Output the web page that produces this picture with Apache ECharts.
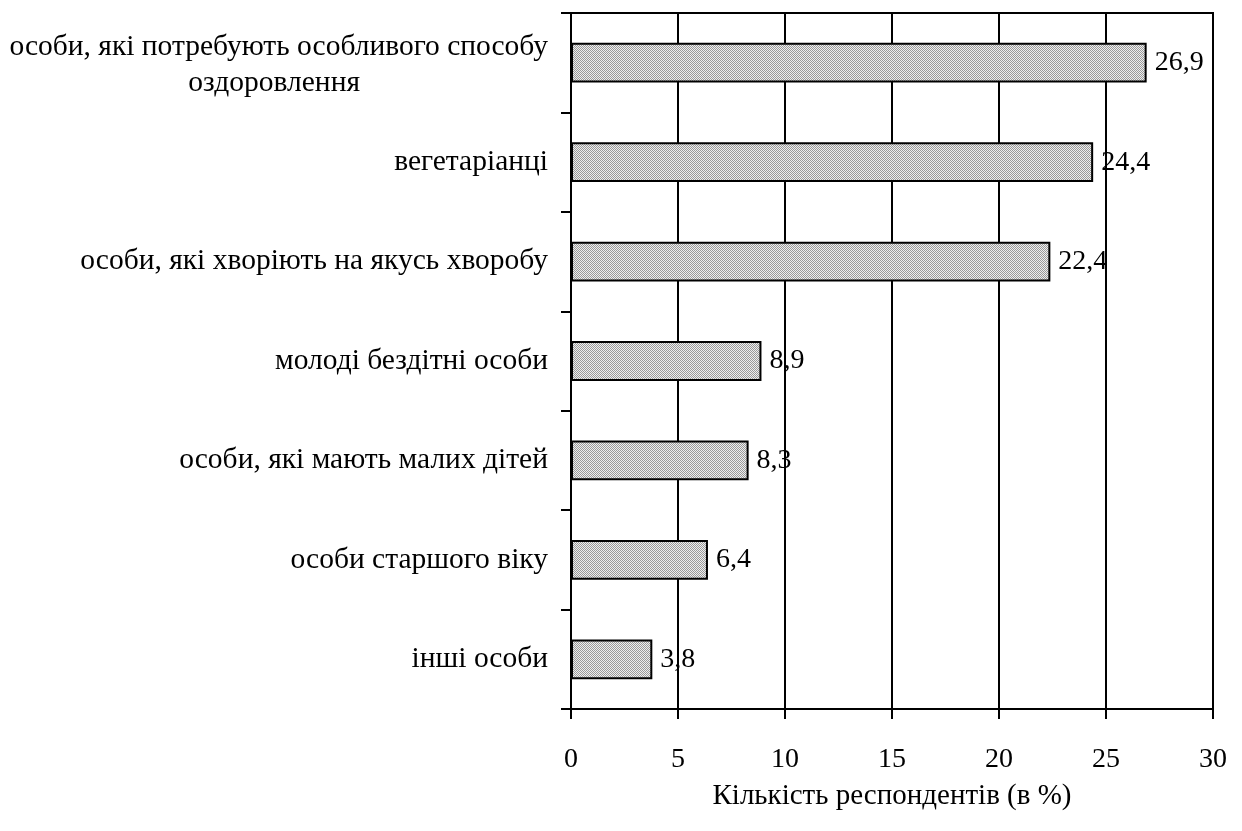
<!DOCTYPE html>
<html>
<head>
<meta charset="utf-8">
<script src="https://cdn.jsdelivr.net/npm/echarts@6/dist/echarts.min.js"></script>
<style>
  html, body { margin: 0; padding: 0; background: #fff; }
  #chart { width: 1242px; height: 831px; }
</style>
</head>
<body>
<div id="chart"></div>
<script>
const categories = [
  'особи, які потребують особливого способу оздоровлення',
  'вегетаріанці',
  'особи, які хворіють на якусь хворобу',
  'молоді бездітні особи',
  'особи, які мають малих дітей',
  'особи старшого віку',
  'інші особи'
]
const values = [26.9, 24.4, 22.4, 8.9, 8.3, 6.4, 3.8]
const xTicks = [0, 5, 10, 15, 20, 25, 30]
const axisName = 'Кількість респондентів (в %)'

// сірий штрихований фон стовпців
function makePattern () {
  const c = document.createElement('canvas')
  c.width = 2
  c.height = 2
  const ctx = c.getContext('2d')
  ctx.fillStyle = '#eeeeee'
  ctx.fillRect(0, 0, 2, 2)
  ctx.fillStyle = '#999999'
  ctx.fillRect(0, 0, 1, 1)
  ctx.fillRect(1, 1, 1, 1)
  return c
}

const font = 'Liberation Serif'
const catSize = 29.5
const option = {
  backgroundColor: '#fff',
  animation: false,
  grid: {
    left: 571,
    right: 29,
    top: 13,
    bottom: 122,
    outerBoundsMode: 'none',
    containLabel: false,
    show: true,
    borderColor: '#000',
    borderWidth: 2
  },
  xAxis: {
    type: 'value',
    min: xTicks[0],
    max: xTicks[xTicks.length - 1],
    interval: 5,
    name: axisName,
    nameLocation: 'middle',
    nameGap: 73,
    nameTextStyle: { color: '#000', fontFamily: font, fontSize: 29 },
    axisLine: { show: true, lineStyle: { color: '#000', width: 2 } },
    axisTick: { show: true, length: 10, lineStyle: { color: '#000', width: 2 } },
    axisLabel: { color: '#000', fontFamily: font, fontSize: 28, margin: 37 },
    splitLine: { show: true, lineStyle: { color: '#000', width: 2 } }
  },
  yAxis: {
    type: 'category',
    inverse: true,
    data: categories,
    axisLine: { show: true, lineStyle: { color: '#000', width: 2 } },
    axisTick: { show: true, length: 10, lineStyle: { color: '#000', width: 2 } },
    axisLabel: {
      color: '#000',
      fontFamily: font,
      fontSize: catSize,
      margin: 23,
      formatter: (v, i) => i === 0
        ? '{a|особи, які потребують особливого способу}\n{b|оздоровлення}'
        : v,
      rich: {
        a: { fontFamily: font, fontSize: catSize, color: '#000', lineHeight: 41 },
        b: { fontFamily: font, fontSize: catSize, color: '#000', lineHeight: 31, padding: [0, 188, 0, 0] }
      }
    }
  },
  series: [{
    type: 'bar',
    data: values,
    barWidth: '40%',
    itemStyle: {
      color: { image: makePattern(), repeat: 'repeat' },
      borderColor: '#000',
      borderWidth: 2
    },
    label: {
      show: true,
      position: 'right',
      distance: 8,
      color: '#000',
      fontFamily: font,
      fontSize: 28,
      formatter: p => String(p.value).replace('.', ',')
    }
  }]
}

const myChart = echarts.init(document.getElementById('chart'))
myChart.setOption(option)
</script>
</body>
</html>
